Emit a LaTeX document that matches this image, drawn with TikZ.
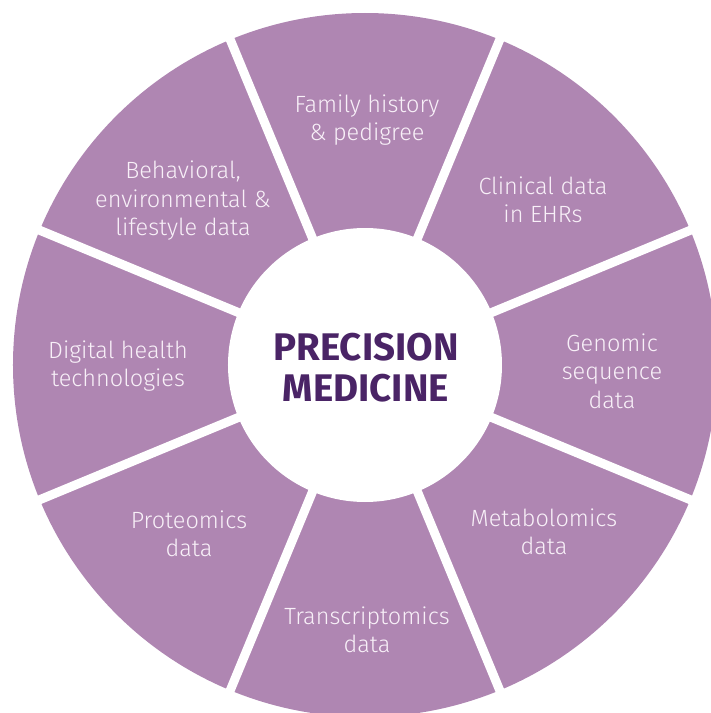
\documentclass[tikz,border=0pt]{standalone}
\usepackage{fontspec}
\setmainfont{Fira Sans Light}
\newfontfamily\titlefont{Fira Sans Bold}
\definecolor{segpurple}{HTML}{AF86B2}
\definecolor{titlepurple}{HTML}{4A2466}
\definecolor{segwhite}{HTML}{F8F0F8}
\tikzstyle{segment} = [fill=segpurple]
\tikzstyle{gap} = [draw=white, line width=9pt]
\tikzstyle{segtext} = [text=segwhite, align=center, font=\fontsize{23.5}{28.5}\selectfont]
\tikzstyle{title} = [text=titlepurple, align=center, font=\titlefont\fontsize{38.5}{41}\selectfont]

\begin{document}
\begin{tikzpicture}[x=1pt, y=1pt]
  \useasboundingbox (-365,-348) rectangle (346,365);
  \clip (-365,-348) rectangle (346,365);

  % wheel
  \fill[segment] (0,0) circle (352);
  \foreach \a in {22.5,67.5,...,337.5}
    \draw[gap] (0,0) -- (\a:380);
  \fill[white] (0,0) circle (137);

  \node (center) [title] at (1,-3) {PRECISION\\MEDICINE};

  \node (family) [segtext] at (2,245) {Family history\\\& pedigree};
  \node (clinical) [segtext] at (178,165) {Clinical data\\in EHRs};
  \node (genomic) [segtext] at (247,-6) {Genomic\\sequence\\data};
  \node (metabolomics) [segtext] at (179,-167) {Metabolomics\\data};
  \node (transcriptomics) [segtext] at (2,-265) {Transcriptomics\\data};
  \node (proteomics) [segtext] at (-176,-169) {Proteomics\\data};
  \node (digital) [segtext] at (-247,-1) {Digital health\\technologies};
  \node (behavioral) [segtext] at (-182,164) {Behavioral,\\environmental \&\\lifestyle data};
\end{tikzpicture}
\end{document}
